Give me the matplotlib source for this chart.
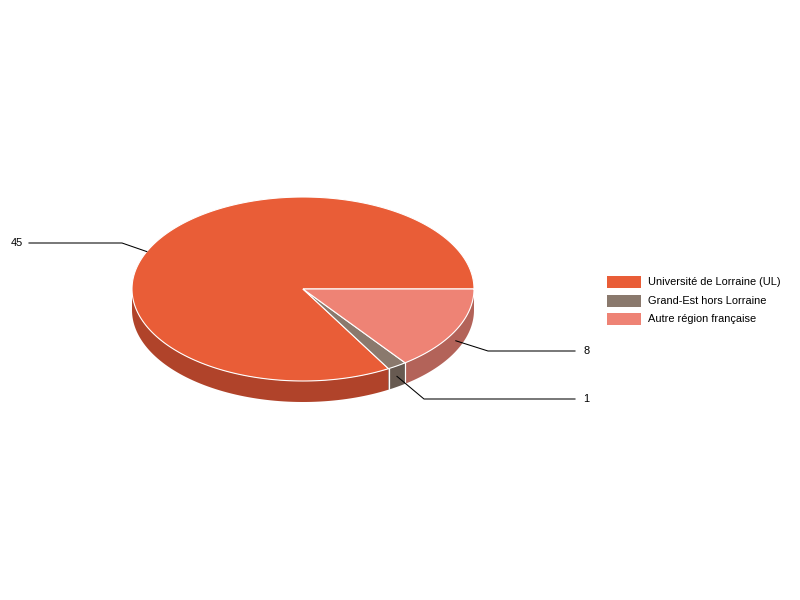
#!/usr/bin/env python3
"""3D-looking pie of student origin"""

import numpy as np
import matplotlib
matplotlib.use('Agg')
import matplotlib.pyplot as plt
from matplotlib.patches import Polygon, Rectangle

categories = ['Université de Lorraine (UL)', 'Grand-Est hors Lorraine',
              'Autre région française']
values = [45, 1, 8]
top_colors = ['#e95d37', '#8a796d', '#ee8375']
side_colors = ['#b0432a', '#675a51', '#b36359']

plt.rcParams['font.family'] = ['Liberation Sans', 'DejaVu Sans']

# layout of the pie, in pixels
cx, cy, rx, ry, depth = 303, 289, 171, 92, 21


def rim(t, dy=0):
    t = np.radians(t)
    return np.column_stack([cx + rx * np.cos(t), cy + ry * np.sin(t) + dy])


##########################################################
def main():
    fig = plt.figure(figsize=(8, 6), dpi=100)
    ax = fig.add_axes([0, 0, 1, 1])
    ax.set_xlim(0, 800)
    ax.set_ylim(600, 0)
    ax.axis('off')

    total = float(sum(values))
    # screen angle, clockwise from 3 o'clock; data runs counter-clockwise
    ends = 360 - 360 * np.cumsum(values) / total
    starts = np.concatenate([[360], ends[:-1]])
    spans = [(e, s) for s, e in zip(starts, ends)]  # (low, high)

    # side walls, front half only
    for (lo, hi), col in zip(spans, side_colors):
        a, b = max(lo, 0), min(hi, 180)
        if a >= b:
            continue
        t = np.linspace(a, b, 80)
        pts = np.vstack([rim(t), rim(t[::-1], depth)])
        ax.add_patch(Polygon(pts, closed=True, fc=col, ec='none', zorder=1))
    for (lo, hi) in spans:
        for t in (lo, hi):
            if 0 < t < 180:
                p = rim([t])[0]
                ax.plot([p[0], p[0]], [p[1], p[1] + depth], color='white',
                        lw=0.8, zorder=2)
    # top faces
    for (lo, hi), col in zip(spans, top_colors):
        t = np.linspace(lo, hi, 200)
        pts = np.vstack([[cx, cy], rim(t)])
        ax.add_patch(Polygon(pts, closed=True, fc=col, ec='white', lw=0.8,
                             zorder=3, joinstyle='miter'))

    # value labels with leader lines
    elbows = {0: (122, 243, 29), 1: (424, 399, 575), 2: (488, 351, 575)}
    for i, ((lo, hi), v) in enumerate(zip(spans, values)):
        mid = (lo + hi) / 2
        if i == 0:
            mid = 204
        dy = depth / 2 if 0 < mid < 180 else 0
        p = rim([mid], dy)[0]
        ex, ey, lx = elbows[i]
        ax.plot([p[0], ex, lx], [p[1], ey, ey], color='black', lw=0.75,
                zorder=4)
        if lx < ex:
            ax.text(lx - 6, ey, str(v), ha='right', va='center', fontsize=7.9)
        else:
            ax.text(lx + 8, ey, str(v), ha='left', va='center', fontsize=7.9)

    # legend
    for i, (name, col) in enumerate(zip(categories, top_colors)):
        y = 282 + 18.5 * i
        ax.add_patch(Rectangle((607, y - 6), 34, 12, fc=col, ec='none'))
        ax.text(648, y, name, ha='left', va='center', fontsize=7.9)

    fig.savefig('out.png', dpi=100, facecolor='white')


##########################################################
if __name__ == "__main__":
    main()
